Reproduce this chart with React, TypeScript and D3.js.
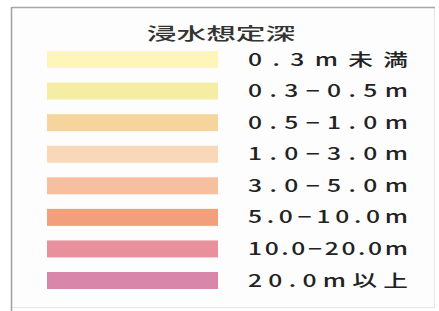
import React from "react";
import * as d3 from "d3";

const title = "浸水想定深";
const depthLabels = [
  "0.3m未満",
  "0.3−0.5m",
  "0.5−1.0m",
  "1.0−3.0m",
  "3.0−5.0m",
  "5.0−10.0m",
  "10.0−20.0m",
  "20.0m以上",
];
const depthColors = [
  "#fdf6b8",
  "#f6eda4",
  "#f6d59c",
  "#f8d8b8",
  "#f6bfa0",
  "#f2a07c",
  "#e8919d",
  "#d887aa",
];

export default function App() {
  const width = 439;
  const height = 311;

  // row centers
  const y = d3.scalePoint<string>().domain(depthLabels).range([59.5, 280.5]);
  const barH = 17;
  const barX = 47;
  const barW = 171;
  const labelX = 248;
  const labelW = 160;
  const stretch = 1.45; // the picture is wide, glyphs look stretched

  return (
    <svg
      width={width}
      height={height}
      style={{ position: "absolute", left: 0, top: 0, display: "block" }}
    >
      <rect x={0} y={0} width={width} height={height} fill="#ffffff" />
      {/* frame */}
      <rect x={11.5} y={7.5} width={423} height={300} fill="#fdfdfd" stroke="#e6e6e6" />
      <line x1={11.5} y1={7.5} x2={435} y2={7.5} stroke="#a8a8a8" strokeWidth={1.5} />
      <line x1={11.5} y1={7} x2={11.5} y2={311} stroke="#a0a0a0" strokeWidth={1.5} />

      <text
        transform="translate(221,40) scale(1.75,1)"
        textAnchor="middle"
        fontFamily="'Noto Sans CJK JP', 'Noto Sans', sans-serif"
        fontSize={17}
        fontWeight={500}
        fill="#333"
      >
        {title}
      </text>

      {depthLabels.map((d, i) => (
        <g key={d}>
          <rect
            x={barX}
            y={(y(d) as number) - barH / 2}
            width={barW}
            height={barH}
            fill={depthColors[i]}
          />
          <text
            transform={`translate(${labelX},${(y(d) as number) + 6}) scale(${stretch},1)`}
            fontFamily="'Noto Sans CJK JP', 'Noto Sans', sans-serif"
            fontSize={17}
            fontWeight={500}
            fill="#222"
            textLength={labelW / stretch}
            lengthAdjust="spacing"
          >
            {d}
          </text>
        </g>
      ))}
    </svg>
  );
}
